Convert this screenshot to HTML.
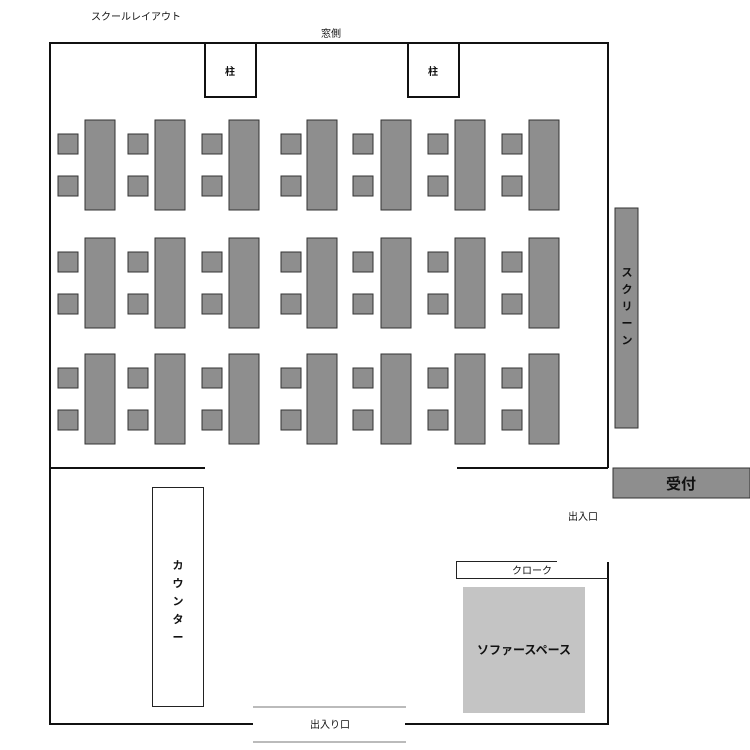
<!DOCTYPE html>
<html><head><meta charset="utf-8"><style>body{margin:0;background:#fff}svg{display:block}text{font-family:"Liberation Sans","Noto Sans CJK JP",sans-serif;fill:#111}</style></head><body>
<svg width="750" height="750" viewBox="0 0 750 750" xmlns="http://www.w3.org/2000/svg">
<text x="91" y="20" font-size="10">スクールレイアウト</text>
<text x="321" y="37" font-size="10">窓側</text>
<g stroke="#111" stroke-width="2" fill="none">
<polyline points="50,468 50,43 608,43 608,468"/>
<line x1="50" y1="468" x2="205" y2="468"/>
<line x1="457" y1="468" x2="608" y2="468"/>
<polyline points="50,468 50,724 253,724"/>
<polyline points="405,724 608,724 608,562"/>
<rect x="205" y="43" width="51" height="54" fill="#fff"/>
<rect x="408" y="43" width="51" height="54" fill="#fff"/>
</g>
<text x="230" y="75" font-size="10" text-anchor="middle" font-weight="bold">柱</text>
<text x="433" y="75" font-size="10" text-anchor="middle" font-weight="bold">柱</text>
<g fill="#8e8e8e" stroke="#333" stroke-width="1">
<!-- tables -->
<g id="row">
<rect x="85" y="120" width="30" height="90"/><rect x="155" y="120" width="30" height="90"/><rect x="229" y="120" width="30" height="90"/><rect x="307" y="120" width="30" height="90"/><rect x="381" y="120" width="30" height="90"/><rect x="455" y="120" width="30" height="90"/><rect x="529" y="120" width="30" height="90"/>
<rect x="58" y="134" width="20" height="20"/><rect x="128" y="134" width="20" height="20"/><rect x="202" y="134" width="20" height="20"/><rect x="281" y="134" width="20" height="20"/><rect x="353" y="134" width="20" height="20"/><rect x="428" y="134" width="20" height="20"/><rect x="502" y="134" width="20" height="20"/>
<rect x="58" y="176" width="20" height="20"/><rect x="128" y="176" width="20" height="20"/><rect x="202" y="176" width="20" height="20"/><rect x="281" y="176" width="20" height="20"/><rect x="353" y="176" width="20" height="20"/><rect x="428" y="176" width="20" height="20"/><rect x="502" y="176" width="20" height="20"/>
</g>
<use href="#row" y="118"/>
<use href="#row" y="234"/>
<rect x="615" y="208" width="23" height="220"/>
<rect x="613" y="468" width="137" height="30"/>
</g>
<g font-size="11" font-weight="bold" text-anchor="middle">
<text x="627" y="276">ス</text><text x="627" y="293">ク</text><text x="627" y="310">リ</text><text x="627" y="327">ー</text><text x="627" y="344">ン</text>
</g>
<text x="681" y="489" font-size="15" font-weight="bold" text-anchor="middle">受付</text>
<text x="583" y="520" font-size="10" text-anchor="middle">出入口</text>
<rect x="152.5" y="487.5" width="51" height="219" fill="#fff" stroke="#222" stroke-width="1"/>
<g font-size="11" font-weight="bold" text-anchor="middle">
<text x="178" y="569">カ</text><text x="178" y="587">ウ</text><text x="178" y="605">ン</text><text x="178" y="623">タ</text><text x="178" y="641">ー</text>
</g>
<polyline points="557,561.5 456.5,561.5 456.5,578.5 608,578.5" fill="none" stroke="#222" stroke-width="1"/>
<text x="532" y="574" font-size="10" text-anchor="middle">クローク</text>
<rect x="463" y="587" width="122" height="126" fill="#c4c4c4"/>
<text x="524" y="654" font-size="12" font-weight="bold" text-anchor="middle">ソファースペース</text>
<line x1="253" y1="707" x2="406" y2="707" stroke="#777" stroke-width="1"/>
<line x1="253" y1="742" x2="406" y2="742" stroke="#777" stroke-width="1"/>
<text x="330" y="728" font-size="10" text-anchor="middle">出入り口</text>
</svg>
</body></html>
